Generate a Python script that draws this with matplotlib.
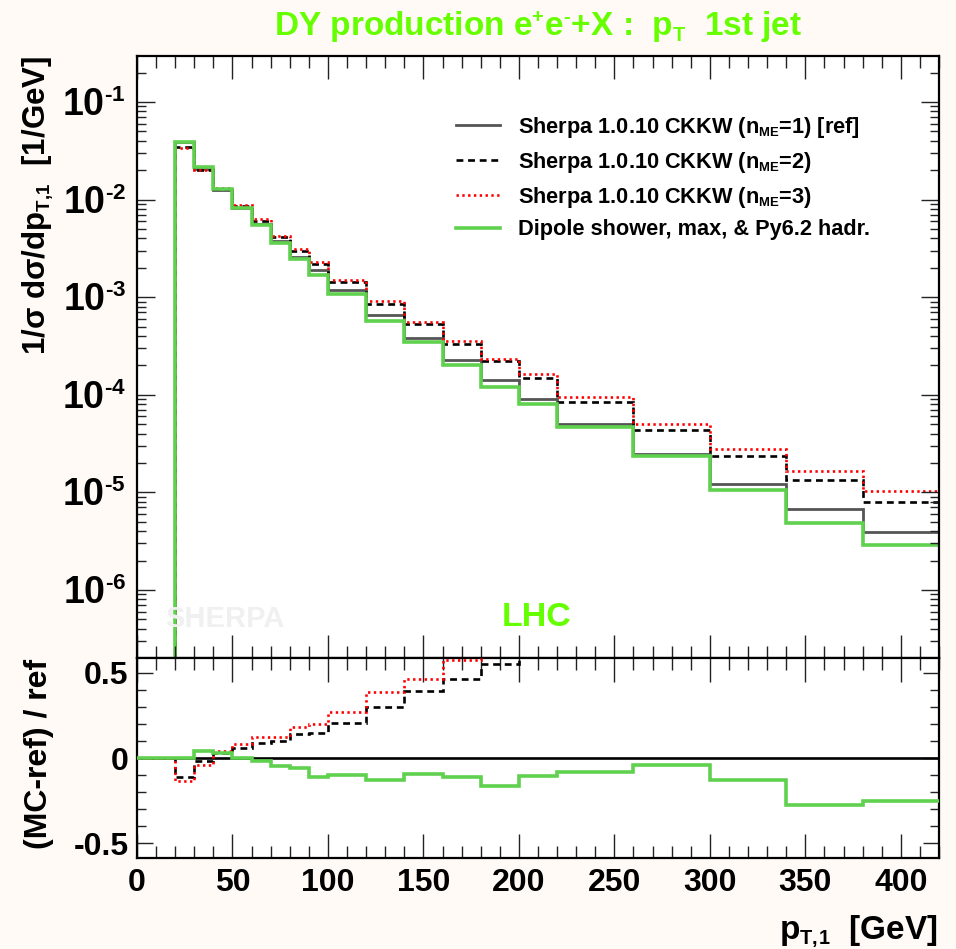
import numpy as np
import matplotlib
matplotlib.use("Agg")
import matplotlib.pyplot as plt
from matplotlib.lines import Line2D
from matplotlib.ticker import FixedLocator, MultipleLocator, NullFormatter, LogLocator
import matplotlib._mathtext as _mt

_mt.SHRINK_FACTOR = 0.6

plt.rcParams['font.family'] = ['Liberation Sans', 'DejaVu Sans']
plt.rcParams['font.weight'] = 'bold'
plt.rcParams['mathtext.fontset'] = 'custom'
plt.rcParams['mathtext.rm'] = 'Liberation Sans:bold'
plt.rcParams['mathtext.it'] = 'Liberation Sans:bold'
plt.rcParams['mathtext.bf'] = 'Liberation Sans:bold'
plt.rcParams['mathtext.default'] = 'rm'

# ---------------- data ----------------
edges = [0, 20, 30, 40, 50, 60, 70, 80, 90, 100, 120, 140, 160, 180, 200,
         220, 260, 300, 340, 380, 420]
ref = [0, 3.92e-2, 2.07e-2, 1.25e-2, 8.11e-3, 5.56e-3, 3.75e-3, 2.61e-3,
       1.905e-3, 1.19e-3, 6.53e-4, 3.80e-4, 2.28e-4, 1.43e-4, 9.1e-5,
       5.05e-5, 2.47e-5, 1.22e-5, 6.74e-6, 3.89e-6]
nme2 = [0, 3.49e-2, 2.03e-2, 1.29e-2, 8.59e-3, 6.06e-3, 4.12e-3, 2.97e-3,
        2.18e-3, 1.435e-3, 8.50e-4, 5.30e-4, 3.34e-4, 2.22e-4, 1.49e-4,
        8.47e-5, 4.35e-5, 2.37e-5, 1.35e-5, 8.02e-6]
nme3 = [0, 3.40e-2, 1.99e-2, 1.30e-2, 8.78e-3, 6.26e-3, 4.22e-3, 3.085e-3,
        2.29e-3, 1.51e-3, 9.04e-4, 5.57e-4, 3.59e-4, 2.35e-4, 1.615e-4,
        9.46e-5, 5.01e-5, 2.80e-5, 1.667e-5, 1.03e-5]
dipole = [0, 3.92e-2, 2.155e-2, 1.286e-2, 8.11e-3, 5.45e-3, 3.57e-3, 2.46e-3,
          1.695e-3, 1.071e-3, 5.68e-4, 3.45e-4, 2.02e-4, 1.194e-4, 8.13e-5,
          4.63e-5, 2.37e-5, 1.064e-5, 4.87e-6, 2.91e-6]

labels = [r'Sherpa 1.0.10 CKKW (n$_{\mathrm{ME}}$=1) [ref]',
          r'Sherpa 1.0.10 CKKW (n$_{\mathrm{ME}}$=2)',
          r'Sherpa 1.0.10 CKKW (n$_{\mathrm{ME}}$=3)',
          'Dipole shower, max, & Py6.2 hadr.']
xticks = [0, 50, 100, 150, 200, 250, 300, 350, 400]
yticks_top = [1e-6, 1e-5, 1e-4, 1e-3, 1e-2, 1e-1]
ytick_top_labels = [r'$10^{‐6}$', r'$10^{‐5}$', r'$10^{‐4}$', r'$10^{‐3}$',
                    r'$10^{‐2}$', r'$10^{‐1}$']
yticks_bot = [-0.5, 0, 0.5]
ytick_bot_labels = ['-0.5', '0', '0.5']

# ---------------- style ----------------
GRAY = '#555555'
BLACK = '#000000'
RED = '#ff0000'
GREEN = '#5fd14f'
TGREEN = '#66ff00'
BG = '#fffaf6'

styles = [dict(color=GRAY, lw=2.0, ls='-'),
          dict(color=BLACK, lw=1.9, ls=(0, (2.6, 1.8))),
          dict(color=RED, lw=1.9, ls=(0, (0.9, 1.3))),
          dict(color=GREEN, lw=2.6, ls='-')]

W, H = 956, 949
fig = plt.figure(figsize=(W / 100, H / 100), dpi=100, facecolor=BG)

L, R = 137, 939
t_top, t_bot = 56, 657.7
b_bot = 858.3
ax = fig.add_axes([L / W, 1 - t_bot / H, (R - L) / W, (t_bot - t_top) / H])
axr = fig.add_axes([L / W, 1 - b_bot / H, (R - L) / W, (b_bot - t_bot) / H])
for a in (ax, axr):
    a.set_facecolor('white')
    for s in a.spines.values():
        s.set_linewidth(1.6)
        s.set_color('black')

series = [ref, nme2, nme3, dipole]
e = np.array(edges, dtype=float)
refa = np.array(ref, dtype=float)
for vals, st in zip(series, styles):
    ax.stairs(np.array(vals, dtype=float), e, baseline=None, **st)

ax.set_yscale('log')
ax.set_xlim(0, 420)
ax.set_ylim(2.02e-7, 0.296)
ax.yaxis.set_major_locator(FixedLocator(yticks_top))
ax.yaxis.set_major_formatter(matplotlib.ticker.FixedFormatter(ytick_top_labels))
ax.yaxis.set_minor_locator(LogLocator(base=10, subs=np.arange(2, 10), numticks=20))
ax.yaxis.set_minor_formatter(NullFormatter())
ax.xaxis.set_major_locator(FixedLocator(xticks))
ax.xaxis.set_minor_locator(MultipleLocator(10))
ax.tick_params(axis='x', which='both', labelbottom=False)
ax.tick_params(axis='both', which='both', direction='in', top=True, right=True,
               width=1.0, color='#222222')
ax.tick_params(axis='x', which='major', length=16.5)
ax.tick_params(axis='x', which='minor', length=8.5)
ax.tick_params(axis='y', which='major', length=13, labelsize=27, pad=8)
ax.tick_params(axis='y', which='minor', length=6.5)

leg_handles = [Line2D([], [], **st) for st in styles]
leg = ax.legend(leg_handles, labels, loc='upper left',
                bbox_to_anchor=((456 - L) / (R - L), 1 - (115 - t_top) / (t_bot - t_top)),
                frameon=False, fontsize=15.7, handlelength=2.0, handletextpad=0.85,
                labelspacing=0.45, borderpad=0, borderaxespad=0)

ax.text(0.035, 0.051, 'SHERPA', transform=ax.transAxes, color='#f0f0f0',
        fontsize=21, fontweight='bold', ha='left', va='baseline')
ax.text(0.455, 0.052, 'LHC', transform=ax.transAxes, color=TGREEN,
        fontsize=24.5, fontweight='bold', ha='left', va='baseline')

# ---------------- ratio panel ----------------
axr.axhline(0, color='black', lw=1.9, zorder=3)
for vals, st in zip(series[1:], styles[1:]):
    v = np.array(vals, dtype=float)
    ratio = np.where(refa > 0, (v - refa) / np.where(refa > 0, refa, 1), 0.0)
    axr.stairs(ratio, e, baseline=None, zorder=4, **st)

axr.set_xlim(0, 420)
axr.set_ylim(-0.588, 0.588)
axr.yaxis.set_major_locator(FixedLocator(yticks_bot))
axr.yaxis.set_major_formatter(matplotlib.ticker.FixedFormatter(ytick_bot_labels))
axr.yaxis.set_minor_locator(MultipleLocator(0.1))
axr.xaxis.set_major_locator(FixedLocator(xticks))
axr.xaxis.set_minor_locator(MultipleLocator(10))
axr.tick_params(axis='both', which='both', direction='in', top=True, right=True,
                width=1.0, color='#222222')
axr.tick_params(axis='x', which='major', length=17, labelsize=23, pad=7)
axr.tick_params(axis='x', which='minor', length=8.5)
axr.tick_params(axis='y', which='major', length=11.5, labelsize=23, pad=6)
axr.tick_params(axis='y', which='minor', length=6.5)

# ---------------- titles / labels ----------------
fig.text((L + R) / 2 / W, 1 - 36 / H,
         r'DY production e$^{+}$e$^{‐}$+X :  p$_{\mathrm{T}}$  1st jet',
         color=TGREEN, fontsize=24, fontweight='bold', ha='center', va='baseline')
fig.text(938 / W, 1 - 940 / H, r'p$_{\mathrm{T,\!1}}$  [GeV]', fontsize=24,
         fontweight='bold', ha='right', va='baseline')
fig.text(38.5 / W, 1 - 56 / H, r'1/σ dσ/dp$_{\mathrm{T,\!1}}$  [1/GeV]', fontsize=22.5,
         fontweight='bold', rotation=90, ha='center', va='top')
fig.text(39 / W, 1 - 659 / H, '(MC-ref) / ref', fontsize=23,
         fontweight='bold', rotation=90, ha='center', va='top')

fig.savefig('out.png', dpi=100, facecolor=BG)
